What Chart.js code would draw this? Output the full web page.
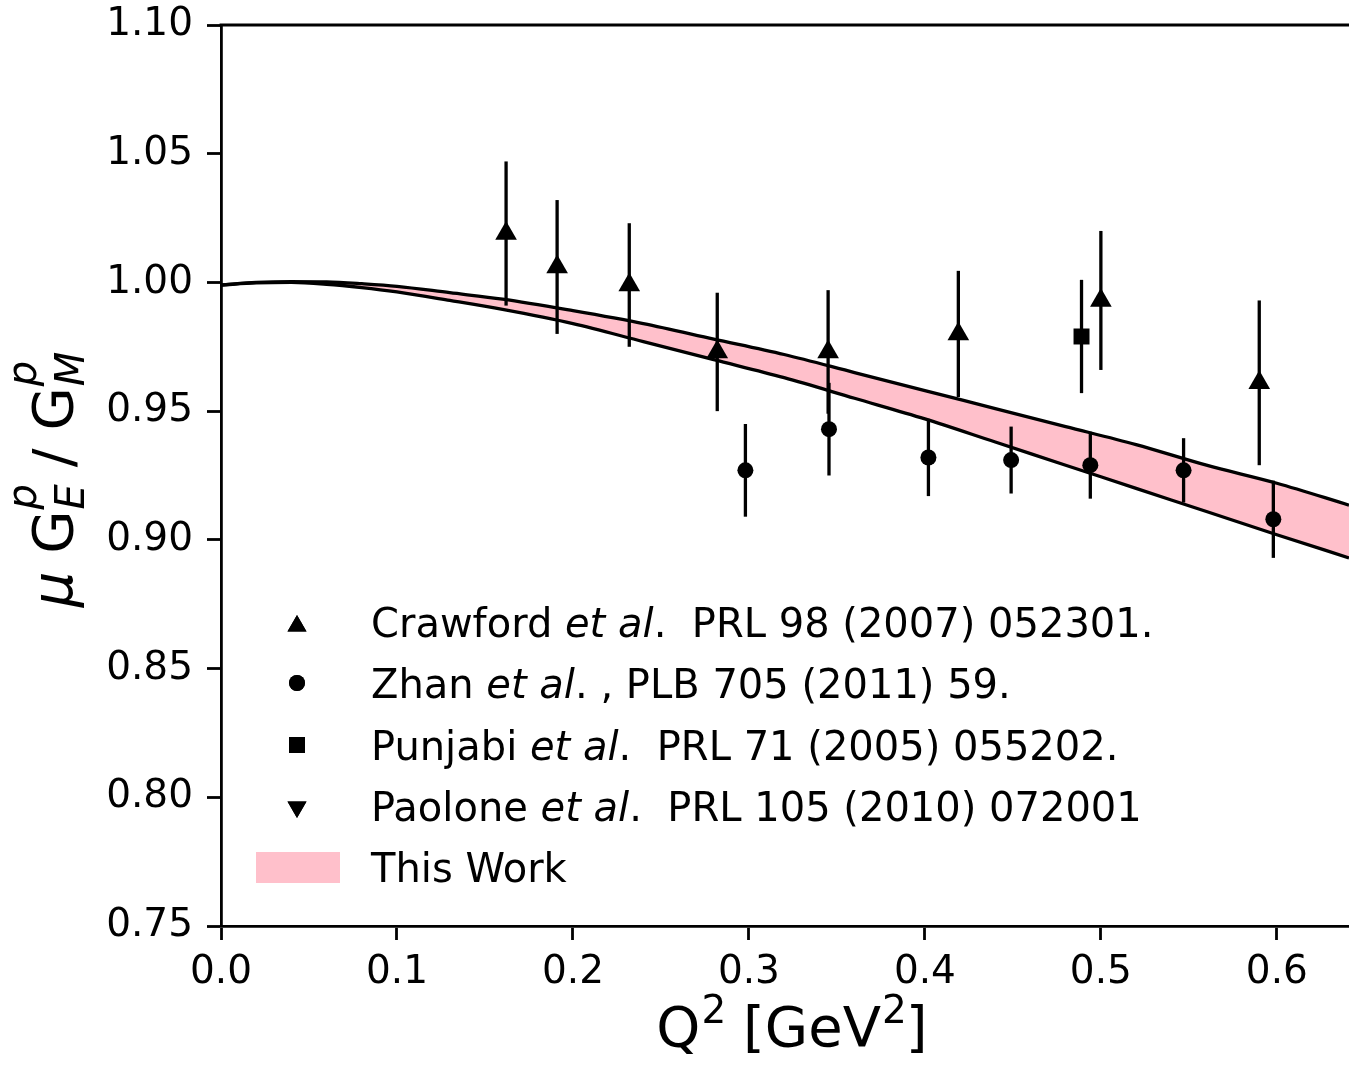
<!DOCTYPE html>
<html>
<head>
<meta charset="utf-8">
<script src="https://cdn.jsdelivr.net/npm/chart.js@4.4.1/dist/chart.umd.min.js"></script>
<style>
  html, body { margin: 0; padding: 0; background: #fff; }
</style>
</head>
<body>
<canvas id="chart" width="1349" height="1065"></canvas>
<script>
// tick positions
const xTicks = [0, 0.1, 0.2, 0.3, 0.4, 0.5, 0.6];
const yTicks = [0.75, 0.8, 0.85, 0.9, 0.95, 1.0, 1.05, 1.1];

// Crawford et al. (triangles)
const crawfordQ2 = [0.162, 0.191, 0.232, 0.282, 0.345, 0.419, 0.5, 0.59];
const crawfordRatio = [1.019, 1.006, 0.999, 0.973, 0.973, 0.98, 0.993, 0.961];
const crawfordErr = [0.028, 0.026, 0.024, 0.023, 0.024, 0.0245, 0.027, 0.032];

// Zhan et al. (circles)
const zhanQ2 = [0.298, 0.3455, 0.402, 0.449, 0.494, 0.547, 0.598];
const zhanRatio = [0.927, 0.943, 0.932, 0.931, 0.929, 0.927, 0.908];
const zhanErr = [0.018, 0.018, 0.015, 0.013, 0.013, 0.0125, 0.015];

// Punjabi et al. (square)
const punjabiQ2 = [0.489];
const punjabiRatio = [0.979];
const punjabiErr = [0.022];

// Paolone et al. -- only in the legend, no point inside the range
const paoloneQ2 = [];
const paoloneRatio = [];
const paoloneErr = [];

// this work: band edges
const bandQ2 = [0, 0.02, 0.04, 0.06, 0.08, 0.1, 0.13, 0.16, 0.2, 0.24, 0.28, 0.32, 0.36, 0.4, 0.44, 0.48, 0.52, 0.56, 0.6, 0.641];
const bandUpper = [0.999, 1.0, 1.0003, 1.0002, 0.9995, 0.9985, 0.996, 0.9935, 0.989, 0.984, 0.978, 0.972, 0.965, 0.958, 0.951, 0.944, 0.937, 0.929, 0.922, 0.9135];
const bandLower = [0.999, 0.9998, 1.0, 0.9993, 0.998, 0.9963, 0.993, 0.9895, 0.984, 0.977, 0.97, 0.963, 0.955, 0.947, 0.938, 0.929, 0.92, 0.911, 0.902, 0.893];

const FONT = "DejaVu Sans";
const PINK = "#FFC0CB";

function toPoints(xs, ys) {
  return xs.map((x, i) => ({ x: x, y: ys[i] }));
}

function font(size, italic) {
  return (italic ? "italic " : "") + size + "px \"" + FONT + "\"";
}

// draws a run of pieces; a piece is plain text or a sub/sup pair
function drawRun(ctx, pieces, cx0) {
  let total = 0;
  pieces.forEach((p) => {
    ctx.font = p.f;
    p.w = p.t ? ctx.measureText(p.t).width : Math.max(ctx.measureText(p.sub || "").width, ctx.measureText(p.sup || "").width);
    total += p.w;
  });
  let cx = cx0 - total / 2;
  pieces.forEach((p) => {
    ctx.font = p.f;
    if (p.t) ctx.fillText(p.t, cx, 0);
    else {
      if (p.sub) ctx.fillText(p.sub, cx + 1, p.subY);
      if (p.sup) ctx.fillText(p.sup, cx + 1, p.supY);
    }
    cx += p.w;
  });
}

// vertical error bars, drawn through the chart scales
const errorBars = {
  id: "errorBars",
  afterDatasetsDraw(chart) {
    const ctx = chart.ctx;
    const xs = chart.scales.x;
    const ys = chart.scales.y;
    ctx.save();
    ctx.strokeStyle = "#000";
    ctx.lineWidth = 3.3;
    chart.data.datasets.forEach((ds) => {
      if (!ds.errors) return;
      ds.data.forEach((p, i) => {
        const px = xs.getPixelForValue(p.x);
        ctx.beginPath();
        ctx.moveTo(px, ys.getPixelForValue(p.y - ds.errors[i]));
        ctx.lineTo(px, ys.getPixelForValue(p.y + ds.errors[i]));
        ctx.stroke();
      });
    });
    ctx.restore();
  },
};

// top spine, axis titles with sub/superscripts, legend with italic "et al"
const decorations = {
  id: "decorations",
  afterDraw(chart) {
    const ctx = chart.ctx;
    const area = chart.chartArea;
    ctx.save();
    ctx.strokeStyle = "#000";
    ctx.lineWidth = 2.8;
    ctx.beginPath();
    ctx.moveTo(area.left - 1.4, area.top);
    ctx.lineTo(area.right, area.top);
    ctx.stroke();

    ctx.fillStyle = "#000";
    ctx.textBaseline = "alphabetic";
    ctx.textAlign = "left";

    // x axis title: Q^2 [GeV^2]
    ctx.translate(0, 1046);
    drawRun(ctx, [
      { t: "Q", f: font(56) },
      { sup: "2", f: font(39), supY: -23 },
      { t: " [GeV", f: font(56) },
      { sup: "2", f: font(39), supY: -23 },
      { t: "]", f: font(56) },
    ], 792);
    ctx.setTransform(1, 0, 0, 1, 0, 0);

    // y axis title: mu G_E^p / G_M^p
    ctx.translate(72, 480);
    ctx.rotate(-Math.PI / 2);
    drawRun(ctx, [
      { t: "\u03bc", f: font(56, true) },
      { t: " G", f: font(56) },
      { sub: "E", sup: "p", f: font(40, true), subY: 12, supY: -36 },
      { t: " / G", f: font(56) },
      { sub: "M", sup: "p", f: font(40, true), subY: 12, supY: -36 },
    ], 0);
    ctx.setTransform(1, 0, 0, 1, 0, 0);

    // legend
    const up = font(40);
    const it = font(40, true);
    const rows = [
      { style: "triangle", rot: 0, r: 11, my: 626, parts: [["Crawford ", up], ["et al", it], [".  PRL 98 (2007) 052301.", up]] },
      { style: "circle", rot: 0, r: 8, my: 683, parts: [["Zhan ", up], ["et al", it], [". , PLB 705 (2011) 59.", up]] },
      { style: "rect", rot: 0, r: 11.3, my: 745, parts: [["Punjabi ", up], ["et al", it], [".  PRL 71 (2005) 055202.", up]] },
      { style: "triangle", rot: 180, r: 11, my: 807, parts: [["Paolone ", up], ["et al", it], [".  PRL 105 (2010) 072001", up]] },
    ];
    rows.forEach((row, i) => {
      Chart.helpers.drawPoint(ctx, { pointStyle: row.style, radius: row.r, rotation: row.rot, borderWidth: 0 }, 297, row.my);
      ctx.fillStyle = "#000";
      ctx.fill();
      let tx = 371;
      const base = 637 + i * 61.3;
      row.parts.forEach((p) => {
        ctx.font = p[1];
        ctx.fillText(p[0], tx, base);
        tx += ctx.measureText(p[0]).width;
      });
    });
    ctx.fillStyle = PINK;
    ctx.fillRect(256, 852, 84, 31);
    ctx.fillStyle = "#000";
    ctx.font = up;
    ctx.fillText("This Work", 371, 882);
    ctx.restore();
  },
};

const markerCommon = {
  type: "scatter",
  backgroundColor: "#000",
  borderColor: "#000",
  borderWidth: 0,
  hoverRadius: 0,
};

function noPadding(axis) {
  axis.paddingTop = 0;
  axis.paddingBottom = 0;
  axis.paddingLeft = 0;
  axis.paddingRight = 0;
}

new Chart(document.getElementById("chart"), {
  type: "scatter",
  data: {
    datasets: [
      Object.assign({}, markerCommon, {
        label: "Crawford et al. PRL 98 (2007) 052301.",
        data: toPoints(crawfordQ2, crawfordRatio),
        errors: crawfordErr,
        pointStyle: "triangle",
        pointRadius: 12.5,
      }),
      Object.assign({}, markerCommon, {
        label: "Zhan et al., PLB 705 (2011) 59.",
        data: toPoints(zhanQ2, zhanRatio),
        errors: zhanErr,
        pointStyle: "circle",
        pointRadius: 8,
      }),
      Object.assign({}, markerCommon, {
        label: "Punjabi et al. PRL 71 (2005) 055202.",
        data: toPoints(punjabiQ2, punjabiRatio),
        errors: punjabiErr,
        pointStyle: "rect",
        pointRadius: 11.3,
      }),
      Object.assign({}, markerCommon, {
        label: "Paolone et al. PRL 105 (2010) 072001",
        data: toPoints(paoloneQ2, paoloneRatio),
        errors: paoloneErr,
        pointStyle: "triangle",
        rotation: 180,
        pointRadius: 12.5,
      }),
      {
        type: "line",
        label: "This Work",
        data: toPoints(bandQ2, bandUpper),
        borderColor: "#000",
        borderWidth: 3.3,
        backgroundColor: PINK,
        fill: "+1",
        pointRadius: 0,
        cubicInterpolationMode: "monotone",
      },
      {
        type: "line",
        label: "This Work (lower)",
        data: toPoints(bandQ2, bandLower),
        borderColor: "#000",
        borderWidth: 3.3,
        fill: false,
        pointRadius: 0,
        cubicInterpolationMode: "monotone",
      },
    ],
  },
  options: {
    responsive: false,
    animation: false,
    events: [],
    layout: { autoPadding: false, padding: { top: 25, right: 0, left: 0, bottom: 0 } },
    plugins: {
      legend: { display: false },
      tooltip: { enabled: false },
      filler: { drawTime: "beforeDatasetsDraw" },
    },
    scales: {
      x: {
        type: "linear",
        min: 0,
        max: 0.641,
        afterBuildTicks: (axis) => { axis.ticks = xTicks.map((v) => ({ value: v })); },
        afterFit: (axis) => { axis.height = 139; noPadding(axis); },
        ticks: {
          color: "#000",
          font: { family: FONT, size: 39 },
          padding: 9,
          maxRotation: 0,
          callback: (v) => v.toFixed(1),
        },
        grid: { display: true, drawOnChartArea: false, drawTicks: true, tickLength: 14, tickWidth: 2.8, tickColor: "#000" },
        border: { display: true, color: "#000", width: 2.8 },
      },
      y: {
        type: "linear",
        min: 0.75,
        max: 1.1,
        afterBuildTicks: (axis) => { axis.ticks = yTicks.map((v) => ({ value: v })); },
        afterFit: (axis) => { axis.width = 221; noPadding(axis); },
        ticks: {
          color: "#000",
          font: { family: FONT, size: 39 },
          padding: 14,
          callback: (v) => v.toFixed(2),
        },
        grid: { display: true, drawOnChartArea: false, drawTicks: true, tickLength: 14, tickWidth: 2.8, tickColor: "#000" },
        border: { display: true, color: "#000", width: 2.8 },
      },
    },
  },
  plugins: [errorBars, decorations],
});
</script>
</body>
</html>
